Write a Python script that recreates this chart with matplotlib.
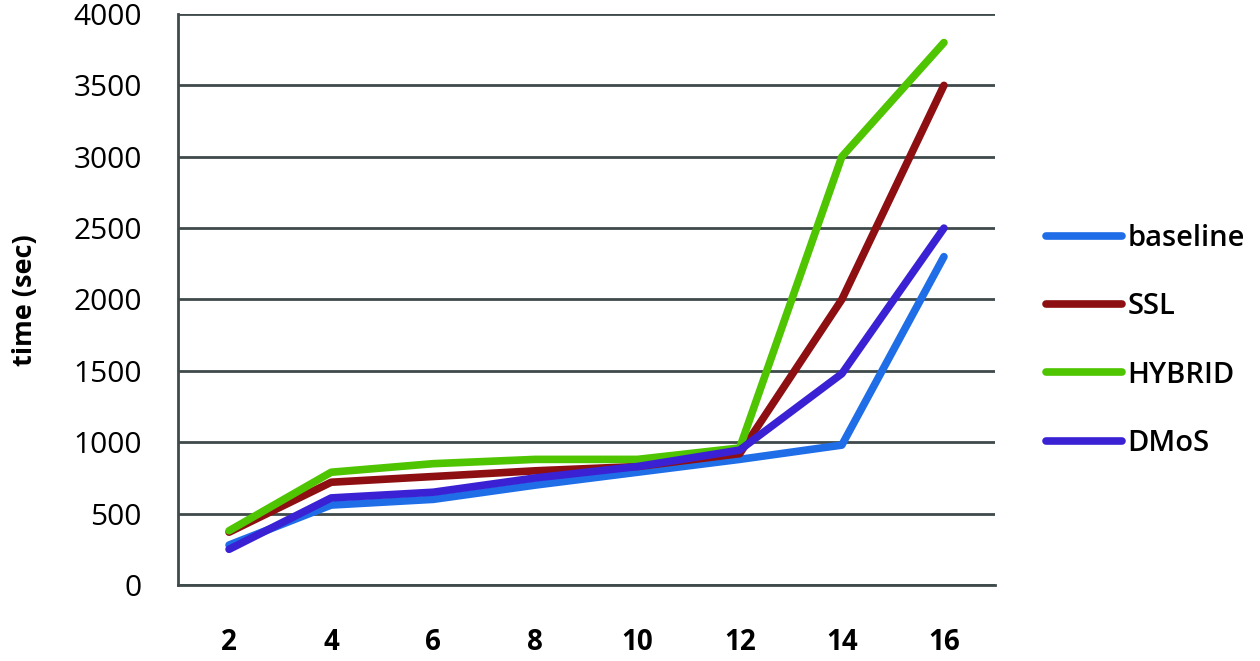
import matplotlib.pyplot as plt

plt.rcParams['font.family'] = ['Open Sans', 'DejaVu Sans']

# number of nodes on the x axis, time in seconds on the y axis
nodes = ['2', '4', '6', '8', '10', '12', '14', '16']
baseline = [280, 560, 600, 700, 790, 880, 980, 2300]
ssl = [370, 720, 760, 800, 830, 920, 2000, 3500]
hybrid = [380, 790, 850, 880, 880, 960, 3000, 3800]
dmos = [250, 610, 650, 750, 830, 945, 1480, 2500]

series = [
    ('baseline', baseline, '#1f6ee8'),
    ('SSL', ssl, '#8e0f12'),
    ('HYBRID', hybrid, '#4fc400'),
    ('DMoS', dmos, '#3a22d4'),
]

fig = plt.figure(figsize=(12.6, 6.61), dpi=100)
ax = fig.add_axes([178 / 1260, 1 - 585 / 661, (995 - 178) / 1260, (585 - 14) / 661])

x = list(range(len(nodes)))
for name, vals, col in series:
    ax.plot(x, vals, color=col, lw=5.5, label=name,
            solid_joinstyle='round', solid_capstyle='round')

ax.set_xlim(-0.5, len(nodes) - 0.5)
ax.set_ylim(0, 4000)
ax.set_yticks(range(0, 4001, 500))
ax.set_xticks(x)
ax.set_xticklabels(nodes, fontsize=20, fontweight='bold')
for t in ax.get_yticklabels():
    t.set_fontweight('medium')
ax.tick_params(axis='y', labelsize=21.5, length=0, pad=26)
ax.tick_params(axis='x', length=0, pad=31)

grid_col = '#3f4a4a'
ax.grid(axis='y', color=grid_col, lw=2)
ax.set_axisbelow(True)
for s in ['top', 'right']:
    ax.spines[s].set_visible(False)
ax.spines['left'].set_color(grid_col)
ax.spines['left'].set_linewidth(2)
ax.spines['bottom'].set_color(grid_col)
ax.spines['bottom'].set_linewidth(2)

fig.text(25 / 1260, 1 - 300 / 661, 'time (sec)', rotation=90, fontsize=19.5,
         fontweight='bold', ha='center', va='center')

leg = fig.legend(loc='center left', bbox_to_anchor=(1046 / 1260, 1 - 341 / 661),
                 frameon=False, fontsize=21, handlelength=2.6, handletextpad=0.2,
                 labelspacing=1.35, borderpad=0, borderaxespad=0)
for t in leg.get_texts():
    t.set_fontweight('semibold')

fig.savefig('out.png', dpi=100)
